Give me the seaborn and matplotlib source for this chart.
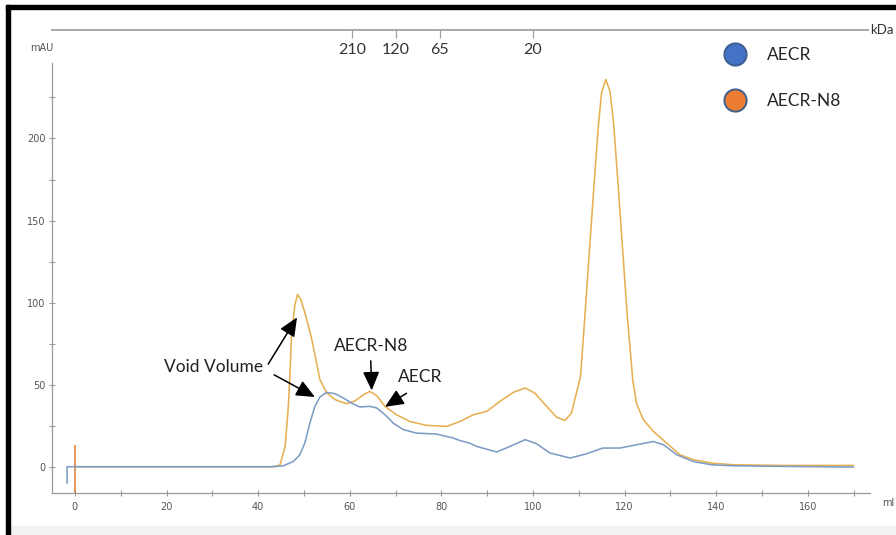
import matplotlib.pyplot as plt
from matplotlib.lines import Line2D
from matplotlib.patches import Rectangle
from matplotlib.ticker import MultipleLocator
import seaborn as sns
import pandas as pd

# AECR trace (blue)
ml_aecr = [-1.7, -1.7, 42.6, 45.5, 47.7, 49.1, 50.2, 51.3, 52.4, 53.5, 55.0, 56.8,
           58.6, 60.4, 62.2, 64.4, 65.9, 67.7, 69.5, 71.7, 74.6, 79.0, 82.6, 84.1,
           86.2, 87.7, 92.1, 95.0, 98.3, 100.8, 103.7, 108.1, 111.7, 115.3, 119.0,
           123.4, 126.3, 128.5, 131.4, 135.0, 139.0, 143.7, 155.0, 170.0]
mau_aecr = [-10, 0, 0, 0.6, 3.2, 7.3, 14.4, 26.6, 36.8, 42.5, 45.3, 44.5,
            41.9, 38.8, 36.4, 36.8, 35.8, 31.7, 26.6, 22.6, 20.5, 19.9, 17.5, 15.9,
            14.4, 12.4, 9.0, 12.4, 16.5, 14.0, 8.4, 5.3, 7.9, 11.4, 11.4,
            13.8, 15.4, 13.4, 7.3, 3.2, 1.2, 0.6, 0.2, -0.2]

# AECR-N8 trace (orange)
ml_n8 = [0, 43.7, 44.8, 45.9, 46.6, 46.9, 47.3, 48.0, 48.6, 49.3, 50.2, 51.7, 53.5,
         55.0, 56.8, 59.3, 61.1, 63.0, 64.4, 65.9, 67.7, 70.2, 73.1, 76.8, 81.2,
         84.1, 87.0, 89.9, 92.8, 95.7, 98.3, 100.4, 103.0, 105.2, 107.0, 108.4,
         109.5, 110.4, 111.3, 112.3, 113.3, 114.3, 115.0, 115.9, 116.8, 117.6,
         118.6, 119.6, 120.6, 121.8, 122.6, 124.1, 126.3, 129.2, 132.1, 135.0,
         139.0, 143.7, 154.6, 170.0]
mau_n8 = [0, 0, 1.2, 12.4, 36.8, 53, 80, 98, 105, 102, 94, 78, 53,
          45, 40.9, 38.4, 40, 43.9, 45.9, 43.3, 36.8, 31.7, 27.6, 25.2, 24.6,
          27.6, 31.7, 33.7, 39.8, 45.3, 48, 44.9, 36.8, 30.1, 28.2, 32.7,
          44.9, 55, 90, 130, 170, 208, 228, 236, 229, 210,
          172, 132, 92, 53, 38.8, 28.7, 21.5, 14.4, 7.3, 4.3,
          2.2, 1.2, 0.8, 0.8]

# injection mark
inject_ml = 0
inject_range = [-16, 13]

# molecular weight markers on the top scale
kda_ml = [60.5, 70.1, 79.7, 100.0]
kda_labels = ['210', '120', '65', '20']

series_names = ['AECR', 'AECR-N8']
line_colors = {'AECR': '#7F9DC4', 'AECR-N8': '#E6B052'}
legend_colors = ['#4472C4', '#ED7D31']

df = pd.concat([
    pd.DataFrame({'ml': ml_aecr, 'mAU': mau_aecr, 'series': 'AECR'}),
    pd.DataFrame({'ml': ml_n8, 'mAU': mau_n8, 'series': 'AECR-N8'}),
], ignore_index=True)

sns.set_style('white')
plt.rcParams['font.family'] = ['DejaVu Sans']

W, H = 896, 535
fig = plt.figure(figsize=(W / 100, H / 100), dpi=100)
ax = fig.add_axes([52 / W, 42 / H, 818 / W, 430 / H])

ax.vlines(inject_ml, inject_range[0], inject_range[1], color='#DB7B35', lw=1.1, zorder=1)
sns.lineplot(data=df[df.series == 'AECR-N8'], x='ml', y='mAU', color=line_colors['AECR-N8'],
             sort=False, estimator=None, lw=1.15, ax=ax, legend=False)
sns.lineplot(data=df[df.series == 'AECR'], x='ml', y='mAU', color=line_colors['AECR'],
             sort=False, estimator=None, lw=1.15, ax=ax, legend=False)

ax.set_xlim(-5, 173.6)
ax.set_ylim(-16, 246)
ax.set_xlabel('')
ax.set_ylabel('')
for s in ['top', 'right']:
    ax.spines[s].set_visible(False)
for s in ['left', 'bottom']:
    ax.spines[s].set_color('#9a9a9a')
    ax.spines[s].set_linewidth(0.9)
ax.xaxis.set_major_locator(MultipleLocator(20))
ax.xaxis.set_minor_locator(MultipleLocator(10))
ax.yaxis.set_major_locator(MultipleLocator(50))
ax.yaxis.set_minor_locator(MultipleLocator(25))
ax.set_yticks([0, 50, 100, 150, 200])
ax.tick_params(which='both', bottom=True, left=True, direction='inout', length=5, width=0.8,
               color='#9a9a9a', labelcolor='#555555', labelsize=7)
ax.tick_params(axis='x', pad=4)
ax.tick_params(axis='y', pad=2)
ax.text(-0.012, 1.035, 'mAU', transform=ax.transAxes, ha='center', va='center',
        fontsize=7, color='#555555')
ax.text(1.022, -0.023, 'ml', transform=ax.transAxes, ha='center', va='center',
        fontsize=7, color='#555555')

# annotations
afont = dict(fontsize=12.5, family='Lato', color='#222222')
arrow = dict(arrowstyle='-|>,head_length=0.95,head_width=0.42', color='black', lw=1.1,
             mutation_scale=12, shrinkA=0, shrinkB=0)
ax.annotate('Void Volume', xy=(48.5, 91), xytext=(30.3, 60.6), ha='center', va='center',
            arrowprops=dict(arrow, relpos=(1.05, 0.7)), **afont)
ax.annotate('', xy=(52.4, 42.5), xytext=(43.5, 56), arrowprops=arrow)
ax.annotate('AECR-N8', xy=(64.8, 46.5), xytext=(64.6, 73.3), ha='center', va='center',
            arrowprops=dict(arrow, relpos=(0.5, -0.4)), **afont)
ax.annotate('AECR', xy=(67.7, 36.5), xytext=(75.3, 54.5), ha='center', va='center',
            arrowprops=dict(arrow, relpos=(0.2, -0.5)), **afont)

# top kDa scale
axk = fig.add_axes([52 / W, (H - 30) / H, 816 / W, 0.0001])
axk.set_xlim(-5, 173.2)
axk.set_yticks([])
axk.set_xticks(kda_ml)
axk.set_xticklabels(kda_labels)
for s in ['top', 'right', 'left']:
    axk.spines[s].set_visible(False)
axk.spines['bottom'].set_color('#a0a0a0')
axk.spines['bottom'].set_linewidth(1.3)
axk.tick_params(axis='x', bottom=True, direction='out', length=6, width=0.9, color='#a0a0a0',
                labelcolor='#333333', labelsize=11.5, pad=3)
for t in axk.get_xticklabels():
    t.set_family('Lato')
axk.patch.set_alpha(0)
fig.text(870 / W, (H - 30) / H, 'kDa', ha='left', va='center', fontsize=9.5,
         family='Lato', color='#333333')

# legend with filled circles
handles = [Line2D([], [], ls='', marker='o', markersize=16, markerfacecolor=c,
                  markeredgecolor='#3E5F8F', markeredgewidth=1.4) for c in legend_colors]
fig.legend(handles, series_names, loc='upper left', bbox_to_anchor=(718 / W, (H - 47) / H),
           frameon=False, prop=dict(family='Lato', size=12.5), labelspacing=1.72,
           handletextpad=0.83, borderpad=0, borderaxespad=0)

# frame of the screenshot
fig.patches.append(Rectangle((6 / W, 0), 4 / W, (H - 5) / H, transform=fig.transFigure,
                             color='black', zorder=10))
fig.patches.append(Rectangle((6 / W, (H - 8.5) / H), 1, 3.5 / H, transform=fig.transFigure,
                             color='black', zorder=10))
fig.patches.append(Rectangle((10 / W, 0), 1, 9 / H, transform=fig.transFigure,
                             color='#f2f2f2', zorder=0))

fig.savefig('out.png', dpi=100)
